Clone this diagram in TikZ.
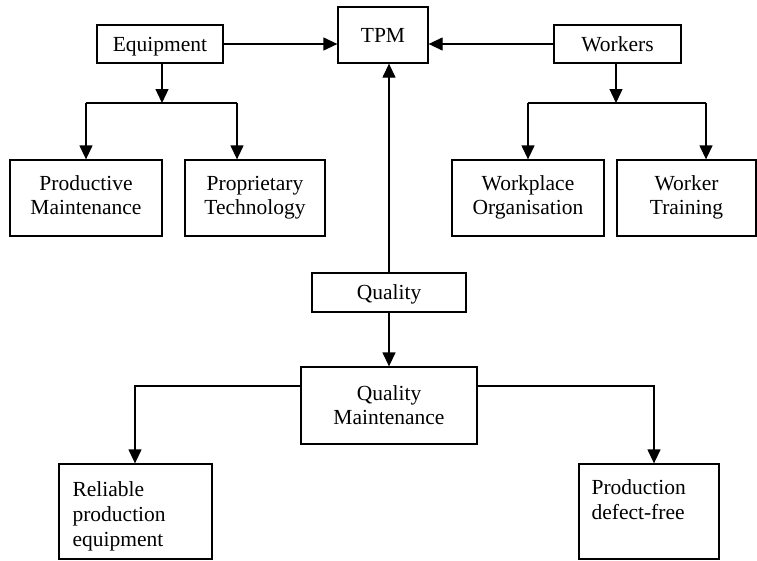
\documentclass[tikz,border=0pt]{standalone}
\usepackage{fontspec}
\setmainfont{Liberation Serif}
\usetikzlibrary{arrows.meta}
\begin{document}
\begin{tikzpicture}[x=1pt, y=-1pt,
  box/.style={draw, line width=1.3pt, inner sep=0pt, align=center, text depth=0pt,
    font=\fontsize{21.5}{24}\selectfont},
  twoline/.style={box, text depth=5pt},
  plainbox/.style={draw, line width=1.3pt, inner sep=0pt},
  boxtext/.style={anchor=north west, inner sep=0pt, align=left,
    font=\fontsize{21.5}{25}\selectfont},
  link/.style={line width=1.3pt},
  arr/.style={line width=1.3pt, -{Triangle[length=14pt, width=13pt]}}]
\useasboundingbox (0,0) rectangle (757,560);

% top row
\node[box, minimum width=126pt, minimum height=38pt] (eq)  at (160,44)   {Equipment};
\node[box, minimum width=90pt,  minimum height=56pt] (tpm) at (383,35)   {TPM};
\node[box, minimum width=127pt, minimum height=38pt] (wk)  at (617.5,44) {Workers};

% second row
\node[twoline, minimum width=152pt, minimum height=76pt] (pm) at (86,198)    {Productive\\Maintenance};
\node[twoline, minimum width=140pt, minimum height=76pt] (pt) at (255,198)   {Proprietary\\Technology};
\node[twoline, minimum width=152pt, minimum height=76pt] (wo) at (528,198)   {Workplace\\Organisation};
\node[twoline, minimum width=139pt, minimum height=76pt] (wt) at (686.5,198) {Worker\\Training};

% quality branch
\node[box, minimum width=154pt, minimum height=39pt] (q)  at (389,292.5) {Quality};
\node[box, minimum width=176pt, minimum height=77pt] (qm) at (389,405.5) {Quality\\Maintenance};

% bottom row: outlined boxes with top-left text
\node[plainbox, minimum width=153pt, minimum height=95pt] (rel)  at (135.5,511.5) {};
\node[boxtext] (reltext) at ([xshift=14pt, yshift=-18pt]rel.north west) {Reliable\\production\\equipment};
\node[plainbox, minimum width=140pt, minimum height=95pt] (prod) at (649,511.5) {};
\node[boxtext] (prodtext) at ([xshift=13pt, yshift=-16pt]prod.north west) {Production\\defect-free};

% junction points
\coordinate (eqJ) at (162,103);
\coordinate (eqL) at (86,103);
\coordinate (eqR) at (237,103);
\coordinate (wkJ) at (616,103);
\coordinate (wkL) at (528,103);
\coordinate (wkR) at (706,103);
\coordinate (qJ)  at (389,0);
\coordinate (qmL) at (135,386);
\coordinate (qmR) at (654,386);

% into TPM
\draw[arr] (eq.east) -- (eq.east -| tpm.west);
\draw[arr] (wk.west) -- (wk.west -| tpm.east);
\draw[arr] (qJ |- q.north) -- (qJ |- tpm.south);

% equipment tree
\draw[arr] (eqJ |- eq.south) -- (eqJ);
\draw[link] (eqL) -- (eqR);
\draw[arr] (eqL) -- (pm.north);
\draw[arr] (eqR) -- (eqR |- pt.north);

% workers tree
\draw[arr] (wkJ |- wk.south) -- (wkJ);
\draw[link] (wkL) -- (wkR);
\draw[arr] (wkL) -- (wo.north);
\draw[arr] (wkR) -- (wkR |- wt.north);

% quality tree
\draw[arr] (qJ |- q.south) -- (qJ |- qm.north);
\draw[arr] (qm.west |- qmL) -- (qmL) -- (qmL |- rel.north);
\draw[arr] (qm.east |- qmR) -- (qmR) -- (qmR |- prod.north);
\end{tikzpicture}
\end{document}
